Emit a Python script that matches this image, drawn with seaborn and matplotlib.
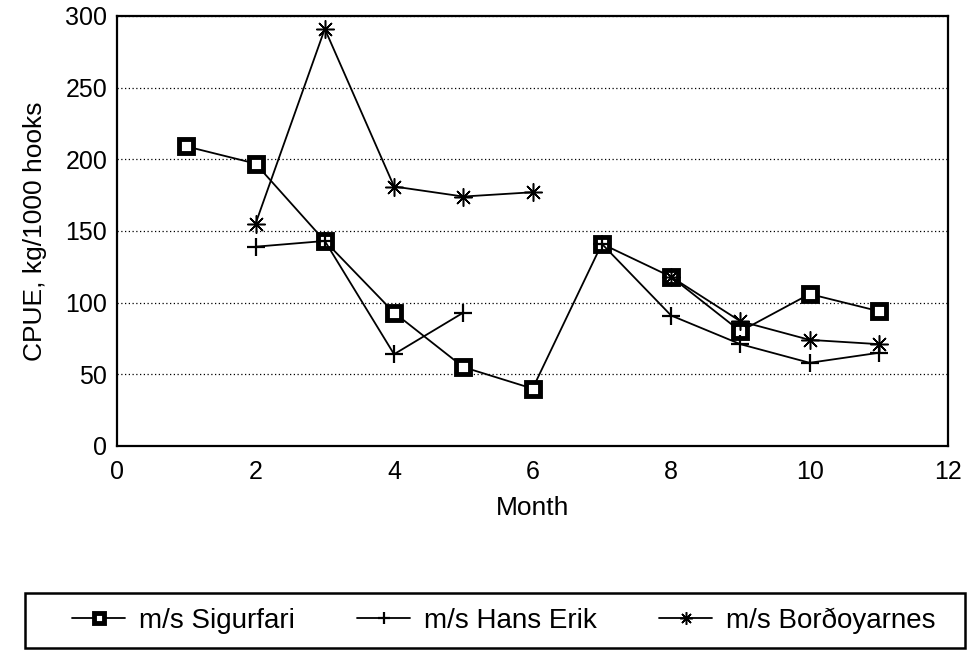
import numpy as np
import pandas as pd
import matplotlib.pyplot as plt
import seaborn as sns
from matplotlib.lines import Line2D
from matplotlib.patches import Rectangle

# Monthly CPUE (kg/1000 hooks) per vessel, NaN = no fishing that month
months = [1, 2, 3, 4, 5, 6, 7, 8, 9, 10, 11]
sigurfari = [209, 197, 143, 93, 55, 40, 141, 118, 80, 106, 94]
hans_erik = [np.nan, 139, 143, 64, 93, np.nan, 141, 91, 71, 58, 65]
bordoyarnes = [np.nan, 155, 291, 181, 174, 177, np.nan, 118, 87, 74, 71]

ship_names = ['m/s Sigurfari', 'm/s Hans Erik', 'm/s Borðoyarnes']
ship_values = [sigurfari, hans_erik, bordoyarnes]

styles = {
    'm/s Sigurfari': dict(marker='s', markersize=9.5, markerfacecolor='white',
                          markeredgecolor='black', markeredgewidth=3.5),
    'm/s Hans Erik': dict(marker='+', markersize=13, markerfacecolor='black',
                          markeredgecolor='black', markeredgewidth=1.6),
    'm/s Borðoyarnes': dict(marker=(8, 2, 0), markersize=13, markerfacecolor='black',
                            markeredgecolor='black', markeredgewidth=1.1),
}


def main():
    sns.set_style('white')
    plt.rcParams['font.family'] = ['Liberation Sans', 'DejaVu Sans']
    plt.rcParams['text.color'] = 'black'
    plt.rcParams['axes.labelcolor'] = 'black'

    fig = plt.figure(figsize=(9.71, 6.51), dpi=100)
    ax = fig.add_axes([0.1205, 0.315, 0.856, 0.6605])

    for name, vals in zip(ship_names, ship_values):
        df = pd.DataFrame({'month': months, 'cpue': vals})
        # break the line where a month is missing
        df['seg'] = df['cpue'].isna().cumsum()
        df = df.dropna()
        sns.lineplot(data=df, x='month', y='cpue', units='seg', estimator=None,
                     color='black', linewidth=1.3, ax=ax, legend=False,
                     **styles[name])

    ax.set_xlim(0, 12)
    ax.set_ylim(0, 300)
    ax.set_xticks(range(0, 13, 2))
    ax.set_yticks(range(0, 301, 50))
    ax.yaxis.grid(True, linestyle=(0, (1, 2)), color='black', linewidth=0.9)
    ax.xaxis.grid(False)
    for sp in ax.spines.values():
        sp.set_color('black')
        sp.set_linewidth(1.6)
    ax.tick_params(axis='y', direction='inout', length=12, width=1.2,
                   labelsize=18, colors='black', pad=1)
    ax.tick_params(axis='x', direction='in', length=6, width=1.2,
                   labelsize=18, colors='black', pad=10)
    ax.set_xlabel('Month', fontsize=19, labelpad=9)
    ax.set_ylabel('CPUE, kg/1000 hooks', fontsize=19, labelpad=13)

    handles = [Line2D([], [], color='black', linewidth=1.3, **styles[n]) for n in ship_names]
    fig.add_artist(Rectangle((0.0257, 0.0046), 0.968, 0.0845, transform=fig.transFigure,
                             fill=False, edgecolor='black', linewidth=1.8))
    fig.legend(handles, ship_names, loc='upper left', ncol=3,
               bbox_to_anchor=(0.060, 0.088), frameon=False, borderpad=0,
               fontsize=20, handlelength=1.9, handletextpad=0.5,
               columnspacing=2.25, markerscale=0.7)

    plt.savefig('out.png', dpi=100)
    plt.close()


if __name__ == '__main__':
    main()
